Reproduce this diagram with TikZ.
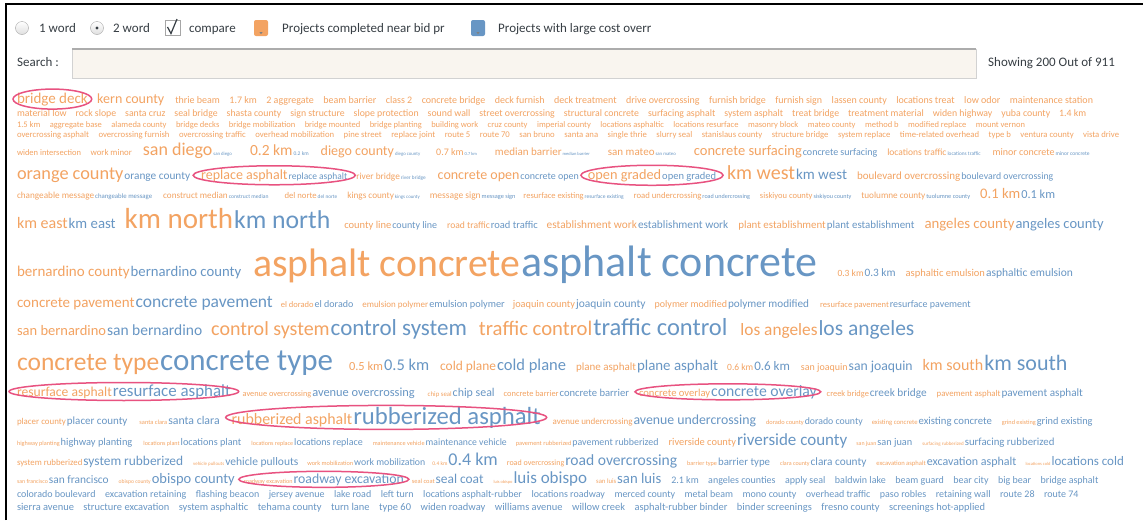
\documentclass[tikz,border=0pt]{standalone}
\usepackage{fontspec}
\setmainfont{Carlito}
\usetikzlibrary{calc}
\definecolor{cor}{RGB}{243,163,98}
\definecolor{cbl}{RGB}{104,150,196}
\definecolor{ringc}{RGB}{232,82,128}
\definecolor{hdr}{RGB}{55,62,68}
\definecolor{sfill}{RGB}{249,245,239}
\newcommand\wo[2]{{\fontsize{#1}{#1}\selectfont\color{cor}#2}}
\newcommand\wb[2]{{\fontsize{#1}{#1}\selectfont\color{cbl}#2}}
\newcommand\pa[3]{\wo{#1}{#3}\kern1pt\wb{#2}{#3}}
\newcommand\wn[4][9.5]{\node[w,xshift=#1pt] (#2) at (#3.base east) {#4};}
\newcommand\ringit[3]{\draw[ringst] let \p1=($(#1.east)-(#1.west)$) in (#1.center) ellipse [x radius={0.5*\x1+#2pt}, y radius=#3pt];}
\begin{document}
\begin{tikzpicture}[x=1pt,y=-1pt,
  w/.style={anchor=base west,inner sep=0pt,outer sep=0pt},
  hd/.style={anchor=base west,inner sep=0pt,text=hdr,font=\fontsize{13}{13}\selectfont},
  radio/.style={circle,draw=gray!70,minimum size=13pt,inner sep=0pt,top color=white,bottom color=gray!25},
  legbox/.style={rounded corners=2pt,minimum width=14pt,minimum height=16pt,inner sep=0pt},
  ringst/.style={draw=ringc,line width=1.5pt}]
\useasboundingbox (0,0) rectangle (1143,520);
\fill[white] (0,0) rectangle (1143,520);
\draw[line width=2.2pt] (6,520) -- (6,4) -- (1143,4);
% header
\node[radio] (rb1) at (22,28) {};
\node[hd] (t1) at (39,32) {1 word};
\node[radio] (rb2) at (97,28) {};
\fill[hdr] (rb2.center) circle (1.6pt);
\node[hd] (t2) at (113,32) {2 word};
\node[draw=gray!70,fill=white,minimum size=15pt,inner sep=0pt] (cb) at (172.5,28) {};
\draw[hdr,line width=1.2pt] (167.5,27) -- (171,33.5) -- (177,19);
\node[hd] (t3) at (189,32) {compare};
\node[legbox,fill=cor] (lg1) at (261,28) {};
\fill[black!50] ($(lg1.south)+(-1.5,-4)$) -- ++(3,0) -- ++(-1.5,2) -- cycle;
\node[hd] (t4) at (282,32) {Projects completed near bid pr};
\node[legbox,fill=cbl] (lg2) at (478,28) {};
\fill[black!50] ($(lg2.south)+(-1.5,-4)$) -- ++(3,0) -- ++(-1.5,2) -- cycle;
\node[hd] (t5) at (498,32) {Projects with large cost overr};
\node[hd] (srch) at (17,66) {Search :};
\node[draw=gray!35,fill=sfill,minimum width=904pt,minimum height=29pt,inner sep=0pt,anchor=north west] (sbox) at (72,49) {};
\draw[gray!65,line width=1.5pt] (sbox.north west) -- (sbox.north east);
\node[hd] (show) at (988,66) {Showing 200 Out of 911};
% row 1
\node[w] (r1c1) at (17,103) {\wo{15}{bridge deck}};
\wn{r1c2}{r1c1}{\wo{14}{kern county}}
\wn[11]{r1c3}{r1c2}{\wo{10}{thrie beam}}
\wn{r1c4}{r1c3}{\wo{10}{1.7 km}}
\wn{r1c5}{r1c4}{\wo{10}{2 aggregate}}
\wn{r1c6}{r1c5}{\wo{10}{beam barrier}}
\wn{r1c7}{r1c6}{\wo{10}{class 2}}
\wn{r1c8}{r1c7}{\wo{10}{concrete bridge}}
\wn{r1c9}{r1c8}{\wo{10}{deck furnish}}
\wn{r1c10}{r1c9}{\wo{10}{deck treatment}}
\wn{r1c11}{r1c10}{\wo{10}{drive overcrossing}}
\wn{r1c12}{r1c11}{\wo{10}{furnish bridge}}
\wn{r1c13}{r1c12}{\wo{10}{furnish sign}}
\wn{r1c14}{r1c13}{\wo{10}{lassen county}}
\wn{r1c15}{r1c14}{\wo{10}{locations treat}}
\wn{r1c16}{r1c15}{\wo{10}{low odor}}
\wn{r1c17}{r1c16}{\wo{10}{maintenance station}}
% row 2
\node[w] (r2c1) at (17,116) {\wo{9.8}{material low}};
\wn[9]{r2c2}{r2c1}{\wo{9.8}{rock slope}}
\wn[9]{r2c3}{r2c2}{\wo{9.8}{santa cruz}}
\wn[9]{r2c4}{r2c3}{\wo{9.8}{seal bridge}}
\wn[9]{r2c5}{r2c4}{\wo{9.8}{shasta county}}
\wn[9]{r2c6}{r2c5}{\wo{9.8}{sign structure}}
\wn[9]{r2c7}{r2c6}{\wo{9.8}{slope protection}}
\wn[9]{r2c8}{r2c7}{\wo{9.8}{sound wall}}
\wn[9]{r2c9}{r2c8}{\wo{9.8}{street overcrossing}}
\wn[9]{r2c10}{r2c9}{\wo{9.8}{structural concrete}}
\wn[9]{r2c11}{r2c10}{\wo{9.8}{surfacing asphalt}}
\wn[9]{r2c12}{r2c11}{\wo{9.8}{system asphalt}}
\wn[9]{r2c13}{r2c12}{\wo{9.8}{treat bridge}}
\wn[9]{r2c14}{r2c13}{\wo{9.8}{treatment material}}
\wn[9]{r2c15}{r2c14}{\wo{9.8}{widen highway}}
\wn[9]{r2c16}{r2c15}{\wo{9.8}{yuba county}}
\wn[9]{r2c17}{r2c16}{\wo{9.8}{1.4 km}}
% row 3
\node[w] (r3c1) at (17,127) {\wo{8.5}{1.5 km}};
\wn{r3c2}{r3c1}{\wo{8.5}{aggregate base}}
\wn{r3c3}{r3c2}{\wo{8.5}{alameda county}}
\wn{r3c4}{r3c3}{\wo{8.5}{bridge decks}}
\wn{r3c5}{r3c4}{\wo{8.5}{bridge mobilization}}
\wn{r3c6}{r3c5}{\wo{8.5}{bridge mounted}}
\wn{r3c7}{r3c6}{\wo{8.5}{bridge planting}}
\wn{r3c8}{r3c7}{\wo{8.5}{building work}}
\wn{r3c9}{r3c8}{\wo{8.5}{cruz county}}
\wn{r3c10}{r3c9}{\wo{8.5}{imperial county}}
\wn{r3c11}{r3c10}{\wo{8.5}{locations asphaltic}}
\wn{r3c12}{r3c11}{\wo{8.5}{locations resurface}}
\wn{r3c13}{r3c12}{\wo{8.5}{masonry block}}
\wn{r3c14}{r3c13}{\wo{8.5}{mateo county}}
\wn{r3c15}{r3c14}{\wo{8.5}{method b}}
\wn{r3c16}{r3c15}{\wo{8.5}{modified replace}}
\wn{r3c17}{r3c16}{\wo{8.5}{mount vernon}}
% row 4
\node[w] (r4c1) at (17,137) {\wo{8.7}{overcrossing asphalt}};
\wn{r4c2}{r4c1}{\wo{8.7}{overcrossing furnish}}
\wn{r4c3}{r4c2}{\wo{8.7}{overcrossing traffic}}
\wn{r4c4}{r4c3}{\wo{8.7}{overhead mobilization}}
\wn{r4c5}{r4c4}{\wo{8.7}{pine street}}
\wn{r4c6}{r4c5}{\wo{8.7}{replace joint}}
\wn{r4c7}{r4c6}{\wo{8.7}{route 5}}
\wn{r4c8}{r4c7}{\wo{8.7}{route 70}}
\wn{r4c9}{r4c8}{\wo{8.7}{san bruno}}
\wn{r4c10}{r4c9}{\wo{8.7}{santa ana}}
\wn{r4c11}{r4c10}{\wo{8.7}{single thrie}}
\wn{r4c12}{r4c11}{\wo{8.7}{slurry seal}}
\wn{r4c13}{r4c12}{\wo{8.7}{stanislaus county}}
\wn{r4c14}{r4c13}{\wo{8.7}{structure bridge}}
\wn{r4c15}{r4c14}{\wo{8.7}{system replace}}
\wn{r4c16}{r4c15}{\wo{8.7}{time-related overhead}}
\wn{r4c17}{r4c16}{\wo{8.7}{type b}}
\wn{r4c18}{r4c17}{\wo{8.7}{ventura county}}
\wn{r4c19}{r4c18}{\wo{8.7}{vista drive}}
% row 5
\node[w] (r5c1) at (17,155) {\wo{8.5}{widen intersection}};
\wn{r5c2}{r5c1}{\wo{8.8}{work minor}}
\wn[11]{r5c3}{r5c2}{\pa{18}{4.8}{san diego}}
\wn[18]{r5c4}{r5c3}{\pa{15.5}{5.5}{0.2 km}}
\wn[12]{r5c5}{r5c4}{\pa{14}{4.8}{diego county}}
\wn[16]{r5c6}{r5c5}{\pa{10}{4.5}{0.7 km}}
\wn[18]{r5c7}{r5c6}{\pa{11}{4.5}{median barrier}}
\wn[18]{r5c8}{r5c7}{\pa{11}{4.8}{san mateo}}
\wn[18]{r5c9}{r5c8}{\pa{14.5}{10}{concrete surfacing}}
\wn[10]{r5c10}{r5c9}{\pa{9.5}{5.3}{locations traffic}}
\wn[12]{r5c11}{r5c10}{\pa{10}{5.5}{minor concrete}}
% row 6
\node[w] (r6c1) at (17,179) {\pa{18.3}{11.3}{orange county}};
\wn[11]{r6c2}{r6c1}{\pa{14}{9.5}{replace asphalt}}
\wn[9]{r6c3}{r6c2}{\pa{9.3}{5.3}{river bridge}}
\wn[12]{r6c4}{r6c3}{\pa{14}{10}{concrete open}}
\wn[9]{r6c5}{r6c4}{\pa{14.3}{10.5}{open graded}}
\wn[11]{r6c6}{r6c5}{\pa{20}{15}{km west}}
\wn[10]{r6c7}{r6c6}{\pa{11}{9.8}{boulevard overcrossing}}
% row 7
\node[w] (r7c1) at (17,198) {\pa{9.2}{6.8}{changeable message}};
\wn[11]{r7c2}{r7c1}{\pa{9.1}{5.6}{construct median}}
\wn[16]{r7c3}{r7c2}{\pa{8.7}{5.3}{del norte}}
\wn[10]{r7c4}{r7c3}{\pa{9.2}{4.9}{kings county}}
\wn[10]{r7c5}{r7c4}{\pa{9.5}{6.3}{message sign}}
\wn[8]{r7c6}{r7c5}{\pa{8.5}{5.5}{resurface existing}}
\wn[10]{r7c7}{r7c6}{\pa{8.7}{6.1}{road undercrossing}}
\wn[10]{r7c8}{r7c7}{\pa{8.5}{6.1}{siskiyou county}}
\wn[10]{r7c9}{r7c8}{\pa{9.2}{6.3}{tuolumne county}}
\wn[10]{r7c10}{r7c9}{\pa{14.6}{12.3}{0.1 km}}
% row 8
\node[w] (r8c1) at (17,228) {\pa{16}{14.8}{km east}};
\wn[9]{r8c2}{r8c1}{\pa{29}{25.7}{km north}}
\wn[14]{r8c3}{r8c2}{\pa{10.5}{10}{county line}}
\wn[10]{r8c4}{r8c3}{\pa{9.6}{10.5}{road traffic}}
\wn[9]{r8c5}{r8c4}{\pa{11.3}{11.3}{establishment work}}
\wn[10]{r8c6}{r8c5}{\pa{10.9}{10.9}{plant establishment}}
\wn[10]{r8c7}{r8c6}{\pa{14.8}{14.5}{angeles county}}
% row 9
\node[w] (r9c1) at (17,276) {\pa{15}{14.7}{bernardino county}};
\wn[12]{r9c2}{r9c1}{\pa{39.7}{44}{asphalt concrete}}
\wn[20]{r9c3}{r9c2}{\pa{9.5}{11.3}{0.3 km}}
\wn[10]{r9c4}{r9c3}{\pa{10.5}{11.5}{asphaltic emulsion}}
% row 10
\node[w] (r10c1) at (17,307) {\pa{15}{17.5}{concrete pavement}};
\wn[8]{r10c2}{r10c1}{\pa{8.5}{10}{el dorado}}
\wn[9]{r10c3}{r10c2}{\pa{9}{10.3}{emulsion polymer}}
\wn[8]{r10c4}{r10c3}{\pa{10.3}{11.5}{joaquin county}}
\wn[9]{r10c5}{r10c4}{\pa{10}{11.2}{polymer modified}}
\wn[11]{r10c6}{r10c5}{\pa{8.5}{10}{resurface pavement}}
% row 11
\node[w] (r11c1) at (17,335) {\pa{14.5}{15.5}{san bernardino}};
\wn[9]{r11c2}{r11c1}{\pa{20}{23}{control system}}
\wn[12]{r11c3}{r11c2}{\pa{20.7}{24.5}{traffic control}}
\wn[13]{r11c4}{r11c3}{\pa{17.3}{21.5}{los angeles}}
% row 12
\node[w] (r12c1) at (17,370) {\pa{25.5}{31}{concrete type}};
\wn[16]{r12c2}{r12c1}{\pa{12.4}{16.4}{0.5 km}}
\wn[11]{r12c3}{r12c2}{\pa{13.4}{16.5}{cold plane}}
\wn[10]{r12c4}{r12c3}{\pa{11}{14.9}{plane asphalt}}
\wn[9]{r12c5}{r12c4}{\pa{9.5}{13}{0.6 km}}
\wn[11]{r12c6}{r12c5}{\pa{10}{13.7}{san joaquin}}
\wn[10]{r12c7}{r12c6}{\pa{16}{22}{km south}}
% row 13
\node[w] (r13c1) at (17,396) {\pa{13.6}{16.9}{resurface asphalt}};
\wn[12]{r13c2}{r13c1}{\pa{8.3}{12.4}{avenue overcrossing}}
\wn[13]{r13c3}{r13c2}{\pa{6.8}{11.9}{chip seal}}
\wn[9]{r13c4}{r13c3}{\pa{8.4}{10.6}{concrete barrier}}
\wn[10]{r13c5}{r13c4}{\pa{10.6}{15.7}{concrete overlay}}
\wn[10]{r13c6}{r13c5}{\pa{8.4}{11.3}{creek bridge}}
\wn[10]{r13c7}{r13c6}{\pa{8.8}{11.2}{pavement asphalt}}
% row 14
\node[w] (r14c1) at (17,424) {\pa{8.9}{11}{placer county}};
\wn[12]{r14c2}{r14c1}{\pa{6.4}{11.8}{santa clara}}
\wn[12]{r14c3}{r14c2}{\pa{15.9}{24.7}{rubberized asphalt}}
\wn[12]{r14c4}{r14c3}{\pa{9}{13.8}{avenue undercrossing}}
\wn[10]{r14c5}{r14c4}{\pa{6.4}{9.8}{dorado county}}
\wn[9]{r14c6}{r14c5}{\pa{6.7}{10.7}{existing concrete}}
\wn[10]{r14c7}{r14c6}{\pa{6.3}{10.3}{grind existing}}
% row 15
\node[w] (r15c1) at (17,445) {\pa{6.2}{10.4}{highway planting}};
\wn[11]{r15c2}{r15c1}{\pa{6.1}{10.2}{locations plant}}
\wn[10]{r15c3}{r15c2}{\pa{6.1}{10}{locations replace}}
\wn[10]{r15c4}{r15c3}{\pa{6.2}{9.7}{maintenance vehicle}}
\wn[9]{r15c5}{r15c4}{\pa{6.4}{9.9}{pavement rubberized}}
\wn[10]{r15c6}{r15c5}{\pa{10.4}{17}{riverside county}}
\wn[9]{r15c7}{r15c6}{\pa{5.9}{10.3}{san juan}}
\wn[10]{r15c8}{r15c7}{\pa{5}{10.8}{surfacing rubberized}}
% row 16
\node[w] (r16c1) at (17,465) {\pa{8.8}{13.4}{system rubberized}};
\wn[10]{r16c2}{r16c1}{\pa{4.9}{11.5}{vehicle pullouts}}
\wn[9]{r16c3}{r16c2}{\pa{6.3}{9.8}{work mobilization}}
\wn[7]{r16c4}{r16c3}{\pa{5.5}{18}{0.4 km}}
\wn[9]{r16c5}{r16c4}{\pa{8}{15.6}{road overcrossing}}
\wn[10]{r16c6}{r16c5}{\pa{6.2}{10.8}{barrier type}}
\wn[10]{r16c7}{r16c6}{\pa{6}{11.3}{clara county}}
\wn[10]{r16c8}{r16c7}{\pa{6.6}{12}{excavation asphalt}}
\wn[9]{r16c9}{r16c8}{\pa{4.5}{13}{locations cold}}
% row 17
\node[w] (r17c1) at (17,483) {\pa{5.9}{11.4}{san francisco}};
\wn[10]{r17c2}{r17c1}{\pa{5.6}{14.5}{obispo county}}
\wn[9]{r17c3}{r17c2}{\pa{6.1}{13.8}{roadway excavation}}
\wn[8]{r17c4}{r17c3}{\pa{6.4}{13.4}{seal coat}}
\wn[10]{r17c5}{r17c4}{\pa{4.4}{17}{luis obispo}}
\wn[9]{r17c6}{r17c5}{\pa{6.7}{14.7}{san luis}}
\wn[10]{r17c7}{r17c6}{\wb{10}{2.1 km}}
\wn{r17c8}{r17c7}{\wb{10}{angeles counties}}
\wn{r17c9}{r17c8}{\wb{10}{apply seal}}
\wn{r17c10}{r17c9}{\wb{10}{baldwin lake}}
\wn{r17c11}{r17c10}{\wb{10}{beam guard}}
\wn{r17c12}{r17c11}{\wb{10}{bear city}}
\wn{r17c13}{r17c12}{\wb{10}{big bear}}
\wn{r17c14}{r17c13}{\wb{10}{bridge asphalt}}
% row 18
\node[w] (r18c1) at (17,497) {\wb{10}{colorado boulevard}};
\wn{r18c2}{r18c1}{\wb{10}{excavation retaining}}
\wn{r18c3}{r18c2}{\wb{10}{flashing beacon}}
\wn{r18c4}{r18c3}{\wb{10}{jersey avenue}}
\wn{r18c5}{r18c4}{\wb{10}{lake road}}
\wn{r18c6}{r18c5}{\wb{10}{left turn}}
\wn{r18c7}{r18c6}{\wb{10}{locations asphalt-rubber}}
\wn{r18c8}{r18c7}{\wb{10}{locations roadway}}
\wn{r18c9}{r18c8}{\wb{10}{merced county}}
\wn{r18c10}{r18c9}{\wb{10}{metal beam}}
\wn{r18c11}{r18c10}{\wb{10}{mono county}}
\wn{r18c12}{r18c11}{\wb{10}{overhead traffic}}
\wn{r18c13}{r18c12}{\wb{10}{paso robles}}
\wn{r18c14}{r18c13}{\wb{10}{retaining wall}}
\wn{r18c15}{r18c14}{\wb{10}{route 28}}
\wn{r18c16}{r18c15}{\wb{10}{route 74}}
% row 19
\node[w] (r19c1) at (17,510) {\wb{10.45}{sierra avenue}};
\wn{r19c2}{r19c1}{\wb{10.45}{structure excavation}}
\wn{r19c3}{r19c2}{\wb{10.45}{system asphaltic}}
\wn{r19c4}{r19c3}{\wb{10.45}{tehama county}}
\wn{r19c5}{r19c4}{\wb{10.45}{turn lane}}
\wn{r19c6}{r19c5}{\wb{10.45}{type 60}}
\wn{r19c7}{r19c6}{\wb{10.45}{widen roadway}}
\wn{r19c8}{r19c7}{\wb{10.45}{williams avenue}}
\wn{r19c9}{r19c8}{\wb{10.45}{willow creek}}
\wn{r19c10}{r19c9}{\wb{10.45}{asphalt-rubber binder}}
\wn{r19c11}{r19c10}{\wb{10.45}{binder screenings}}
\wn{r19c12}{r19c11}{\wb{10.45}{fresno county}}
\wn{r19c13}{r19c12}{\wb{10.45}{screenings hot-applied}}
% rings
\ringit{r1c1}{4}{10}
\ringit{r6c2}{8}{9.5}
\ringit{r6c5}{7}{10}
\ringit{r13c1}{8}{9}
\ringit{r14c3}{6}{12}
\ringit{r13c5}{4}{8}
\ringit{r17c3}{5}{8}
\end{tikzpicture}
\end{document}
